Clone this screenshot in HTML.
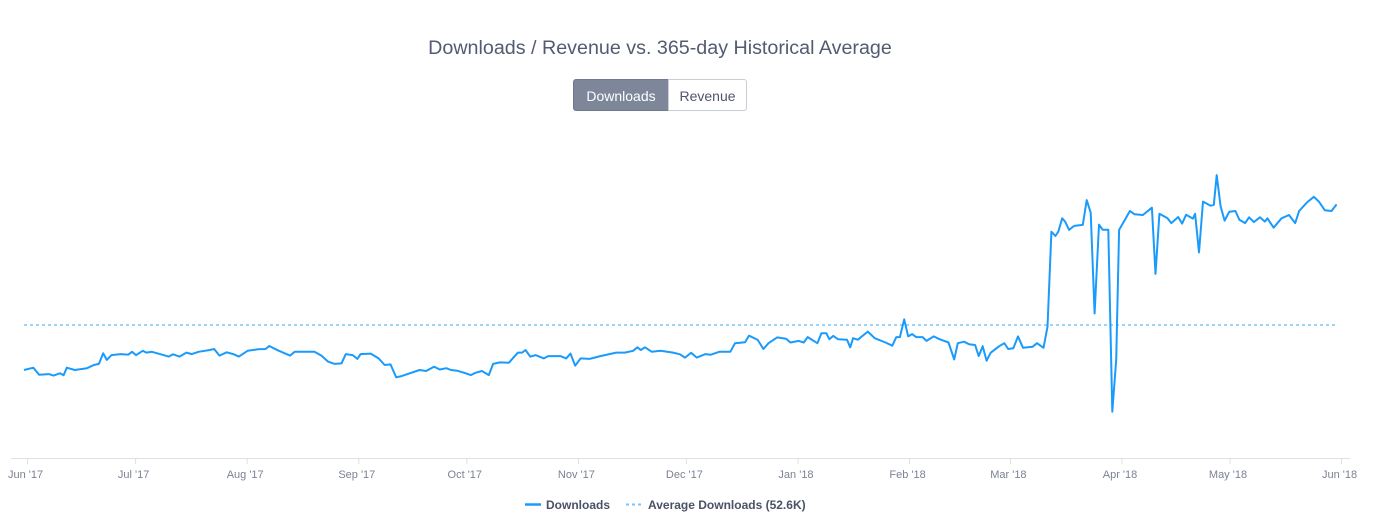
<!DOCTYPE html>
<html><head><meta charset="utf-8"><style>
body{margin:0;background:#fff;font-family:"Liberation Sans",sans-serif;}
#wrap{position:relative;width:1375px;height:532px;overflow:hidden;}
.title{position:absolute;left:0;width:1320px;top:37px;text-align:center;font-size:19.7px;color:#525b70;}
.btn{position:absolute;top:79px;height:32px;line-height:32px;font-size:14px;text-align:center;box-sizing:border-box;}
</style></head><body>
<div id="wrap">
<div class="title">Downloads / Revenue vs. 365-day Historical Average</div>
<div class="btn" style="left:573px;width:96px;background:#7d8799;color:#fff;border:1px solid #6f7989;border-radius:3px 0 0 3px;">Downloads</div>
<div class="btn" style="left:668px;width:79px;background:#fff;color:#4f566a;border:1px solid #c9ced6;border-radius:0 3px 3px 0;">Revenue</div>
<svg id="chart" width="1375" height="532" style="position:absolute;left:0;top:0"></svg>
</div>
<script>
const days=[0,2.6,4.2,6.9,8.2,10,11,11.9,14.1,17.5,19.4,20.8,22,23,24.3,26.8,29,30,31.1,33,34,35.5,38,40.2,41.4,43.2,45.1,46.6,48.5,51.6,52.8,54.3,56.3,58.1,59.7,62.1,65,67.1,68.1,70.8,73.9,75.2,80.7,82.6,84.5,86.3,88.2,89.4,91.3,92.6,93.5,96.3,98.5,100.2,101.8,103.4,104.9,109.9,111.7,113.9,115.5,117.3,118.6,120.4,122.3,124.1,125.4,127.2,129.1,130.3,132.2,134.7,137.2,138.4,139.3,140.6,142.1,144.4,145.6,149,150.6,151.8,153.1,154.6,157.1,160.1,164.5,166.9,169.2,170.4,171.3,172.5,174.4,176.8,180.3,182.2,183.6,185.3,186.9,189.3,190.7,193.1,196.2,197.5,200.3,201.4,203.8,205.4,206.8,209.2,211.7,212.9,215.2,216.6,217.7,220.4,221.5,222.9,223.7,224.8,226.1,228.6,229.5,230.3,231.6,234.4,236.3,239.3,241.2,242.3,243.3,244.5,245.6,246.7,247.8,249.6,250.7,252.7,254.3,256.8,258.4,259.4,261.1,262.5,264.2,265.2,266.3,267.4,268.5,270.9,272.3,273.4,274.8,276.1,277.5,280.2,281.4,283.2,284.3,285.4,286.5,287.3,288.4,289.2,290.3,291.7,294.1,295.2,296.3,297.4,298.6,299.6,301.2,302.3,303.4,304.2,305,307.2,308.5,310.8,313.3,314.3,315.4,317.6,318.7,320.6,321.7,322.8,324.7,325.3,326.4,327.5,329.6,330.5,331.3,332.4,333.5,334.8,336.5,337.6,339.2,340.3,341.6,343.3,344.7,345.4,347.1,349.3,351.4,353.1,354.2,356.4,358.3,359.7,361.3,363.2,364.6];
const downloads=[34.8,35.7,32.9,33.2,32.6,33.5,32.7,35.7,34.8,35.5,36.8,37.2,41.4,38.8,40.7,41.1,40.9,42.0,40.7,42.4,41.7,42.0,41.0,40.1,41.0,40.1,41.7,41.1,42.0,42.7,43.1,40.5,41.8,41.1,40.1,42.4,43.0,43.1,44.3,42.4,40.5,42.0,42.0,40.5,38.1,37.2,37.4,41.1,40.7,39.2,41.1,41.3,39.4,36.8,37.0,31.9,32.4,34.8,34.4,36.1,35.0,35.5,34.8,34.5,33.7,32.8,33.7,34.4,32.8,37.2,37.8,37.7,41.7,41.7,42.7,40.1,40.7,39.4,40.3,40.3,39.4,41.3,36.5,39.4,39.2,40.3,41.7,41.7,42.4,43.8,42.7,43.8,42.0,42.4,41.7,41.0,39.7,41.6,39.7,41.1,40.8,42.0,42.0,45.4,45.8,48.4,46.7,43.1,45.4,47.7,47.2,45.7,46.3,45.7,47.8,45.4,49.3,49.3,47.0,48.3,47.0,46.8,43.8,47.4,46.8,50.0,47.4,45.7,44.4,47.8,47.8,54.8,48.1,49.0,47.8,47.8,46.3,48.1,47.0,45.7,39.0,45.4,46.0,45.0,44.7,40.3,44.2,38.5,41.6,44.2,45.4,43.1,43.4,48.1,43.6,44.0,45.4,43.6,51.9,89.5,87.8,89.5,94.8,93.5,90.2,91.8,92.2,102.0,97.0,57.2,92.3,90.3,90.3,18.3,38.8,90.2,92.2,97.7,96.4,96.1,99.0,72.8,96.6,94.9,92.9,95.3,92.7,96.2,94.7,96.6,81.3,101.4,99.8,100.1,111.9,99.5,93.9,97.4,97.7,94.2,92.9,95.2,93.3,95.2,93.5,94.8,91.1,94.8,96.1,92.9,97.7,101.1,103.3,101.4,98.0,97.7,100.3];
const averageDownloads=52.6;
const tickLabels=["Jun '17","Jul '17","Aug '17","Sep '17","Oct '17","Nov '17","Dec '17","Jan '18","Feb '18","Mar '18","Apr '18","May '18","Jun '18"];
const tickDays=[1,31,62,93,123,154,184,215,246,274,305,335,366];

const svg=document.getElementById('chart');
const NS='http://www.w3.org/2000/svg';
const x=d=>24+3.6*d;
const y=v=>458-v/0.3955;
function mk(t,a){const e=document.createElementNS(NS,t);for(const k in a)e.setAttribute(k,a[k]);svg.appendChild(e);return e;}

const ax=mk('line',{x1:11,x2:1350,y1:458.5,y2:458.5,stroke:'#dde1e7','stroke-width':1});


tickDays.forEach((d,i)=>{
  const t=mk('line',{x1:x(d),x2:x(d),y1:458,y2:464,stroke:'#dde1e7'});
  
  
  const l=mk('text',{x:x(d)-2,y:478,'text-anchor':'middle','font-size':11,fill:'#7b8294','font-family':'Liberation Sans, sans-serif'});
  l.textContent=tickLabels[i];
  
  
});
const avg=mk('line',{x1:x(0),x2:x(364.6),y1:y(averageDownloads),y2:y(averageDownloads),stroke:'#7cc5f8','stroke-width':1.5,'stroke-dasharray':'3,3'});


const pts=days.map((d,i)=>x(d).toFixed(1)+','+y(downloads[i]).toFixed(1)).join(' ');
const line=mk('polyline',{points:pts,fill:'none',stroke:'#1a9bfc','stroke-width':2,'stroke-linejoin':'round'});



const l1=mk('line',{x1:525,x2:541,y1:504.5,y2:504.5,stroke:'#1a9bfc','stroke-width':2.5});


const t1=mk('text',{x:546,y:509,'font-size':12,'font-weight':'bold',fill:'#4a5266','font-family':'Liberation Sans, sans-serif'});
t1.textContent='Downloads';


const l2=mk('line',{x1:626,x2:642,y1:504.5,y2:504.5,stroke:'#7cc5f8','stroke-width':2,'stroke-dasharray':'3,3'});


const t2=mk('text',{x:648,y:509,'font-size':12,'font-weight':'bold',fill:'#4a5266','font-family':'Liberation Sans, sans-serif'});
t2.textContent='Average Downloads (52.6K)';


</script>
</body></html>
